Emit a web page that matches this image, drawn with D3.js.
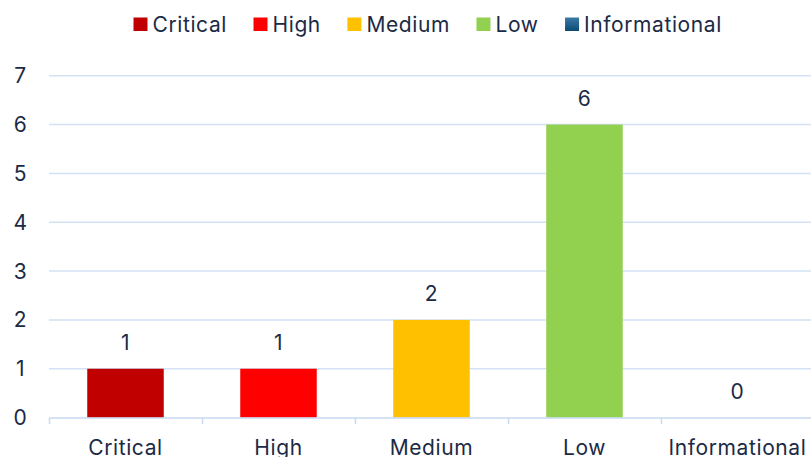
<!DOCTYPE html>
<html><head><meta charset="utf-8">
<script src="https://cdn.jsdelivr.net/npm/d3@7"></script>
<style>
html,body{margin:0;padding:0;background:#fff;overflow:hidden;}
svg text{font-family:Inter,"Open Sans",sans-serif;fill:#1b2a45;letter-spacing:0.6px;}
</style></head>
<body><svg id="c" width="811" height="457"></svg>
<script>
const categories = ["Critical","High","Medium","Low","Informational"];
const values = [1,1,2,6,0];
const colors = ["#c00000","#ff0000","#ffc000","#92d050","#1f5f8b"];
const yTicks = [0,1,2,3,4,5,6,7];

const svg = d3.select("#c");
const defs = svg.append("defs");
const g = defs.append("linearGradient").attr("id","infoGrad").attr("x1",0).attr("y1",0).attr("x2",0).attr("y2",1);
g.append("stop").attr("offset","0%").attr("stop-color","#3a7aa5");
g.append("stop").attr("offset","100%").attr("stop-color","#0c4a73");

const fs = 21;
const x = d3.scaleBand().domain(categories).range([49, 814]).paddingInner(0.5).paddingOuter(0.25);
const y = d3.scaleLinear().domain([0,7]).range([417.6, 75.7]);
const step = x.step();

// gridlines
svg.append("g").selectAll("line").data(yTicks.filter(d=>d>0)).join("line")
  .attr("x1",49).attr("x2",811).attr("y1",d=>y(d)).attr("y2",d=>y(d))
  .attr("stroke","#d3e2f4").attr("stroke-width",1.5);

// y labels
svg.append("g").selectAll("text").data(yTicks).join("text")
  .attr("x",20.5).attr("y",d=>y(d)+7.5).attr("text-anchor","middle")
  .attr("font-size",fs).text(d=>d);

// bars
svg.append("g").selectAll("rect").data(values).join("rect")
  .attr("x",(d,i)=>x(categories[i])).attr("width",x.bandwidth())
  .attr("y",d=>y(d)).attr("height",d=>y(0)-y(d))
  .attr("fill",(d,i)=>i===4?"url(#infoGrad)":colors[i]);

// axis line and ticks
const ax = svg.append("g");
ax.append("line").attr("x1",49).attr("x2",811).attr("y1",418).attr("y2",418).attr("stroke","#c6d9f0").attr("stroke-width",1.5);
ax.selectAll("line.t").data(d3.range(6)).join("line").attr("class","t")
  .attr("x1",d=>49.5+d*step).attr("x2",d=>49.5+d*step).attr("y1",418).attr("y2",424)
  .attr("stroke","#c6d9f0").attr("stroke-width",1.5);

// category labels
svg.append("g").selectAll("text").data(categories).join("text")
  .attr("x",d=>x(d)+x.bandwidth()/2).attr("y",454.5).attr("text-anchor","middle")
  .attr("font-size",fs).text(d=>d);

// data labels
svg.append("g").selectAll("text").data(values).join("text")
  .attr("x",(d,i)=>x(categories[i])+x.bandwidth()/2).attr("y",d=>y(d)-18.5).attr("text-anchor","middle")
  .attr("font-size",fs).text(d=>d);

// legend
const leg = svg.append("g");
let cx = 133.5;
categories.forEach((c,i)=>{
  leg.append("rect").attr("x",cx).attr("y",17.5).attr("width",14).attr("height",13.5)
    .attr("fill",i===4?"url(#infoGrad)":colors[i]);
  const t = leg.append("text").attr("x",cx+19).attr("y",31.7).attr("font-size",fs).text(c);
  cx += 19 + t.node().getComputedTextLength() + 26.5;
});
</script></body></html>
